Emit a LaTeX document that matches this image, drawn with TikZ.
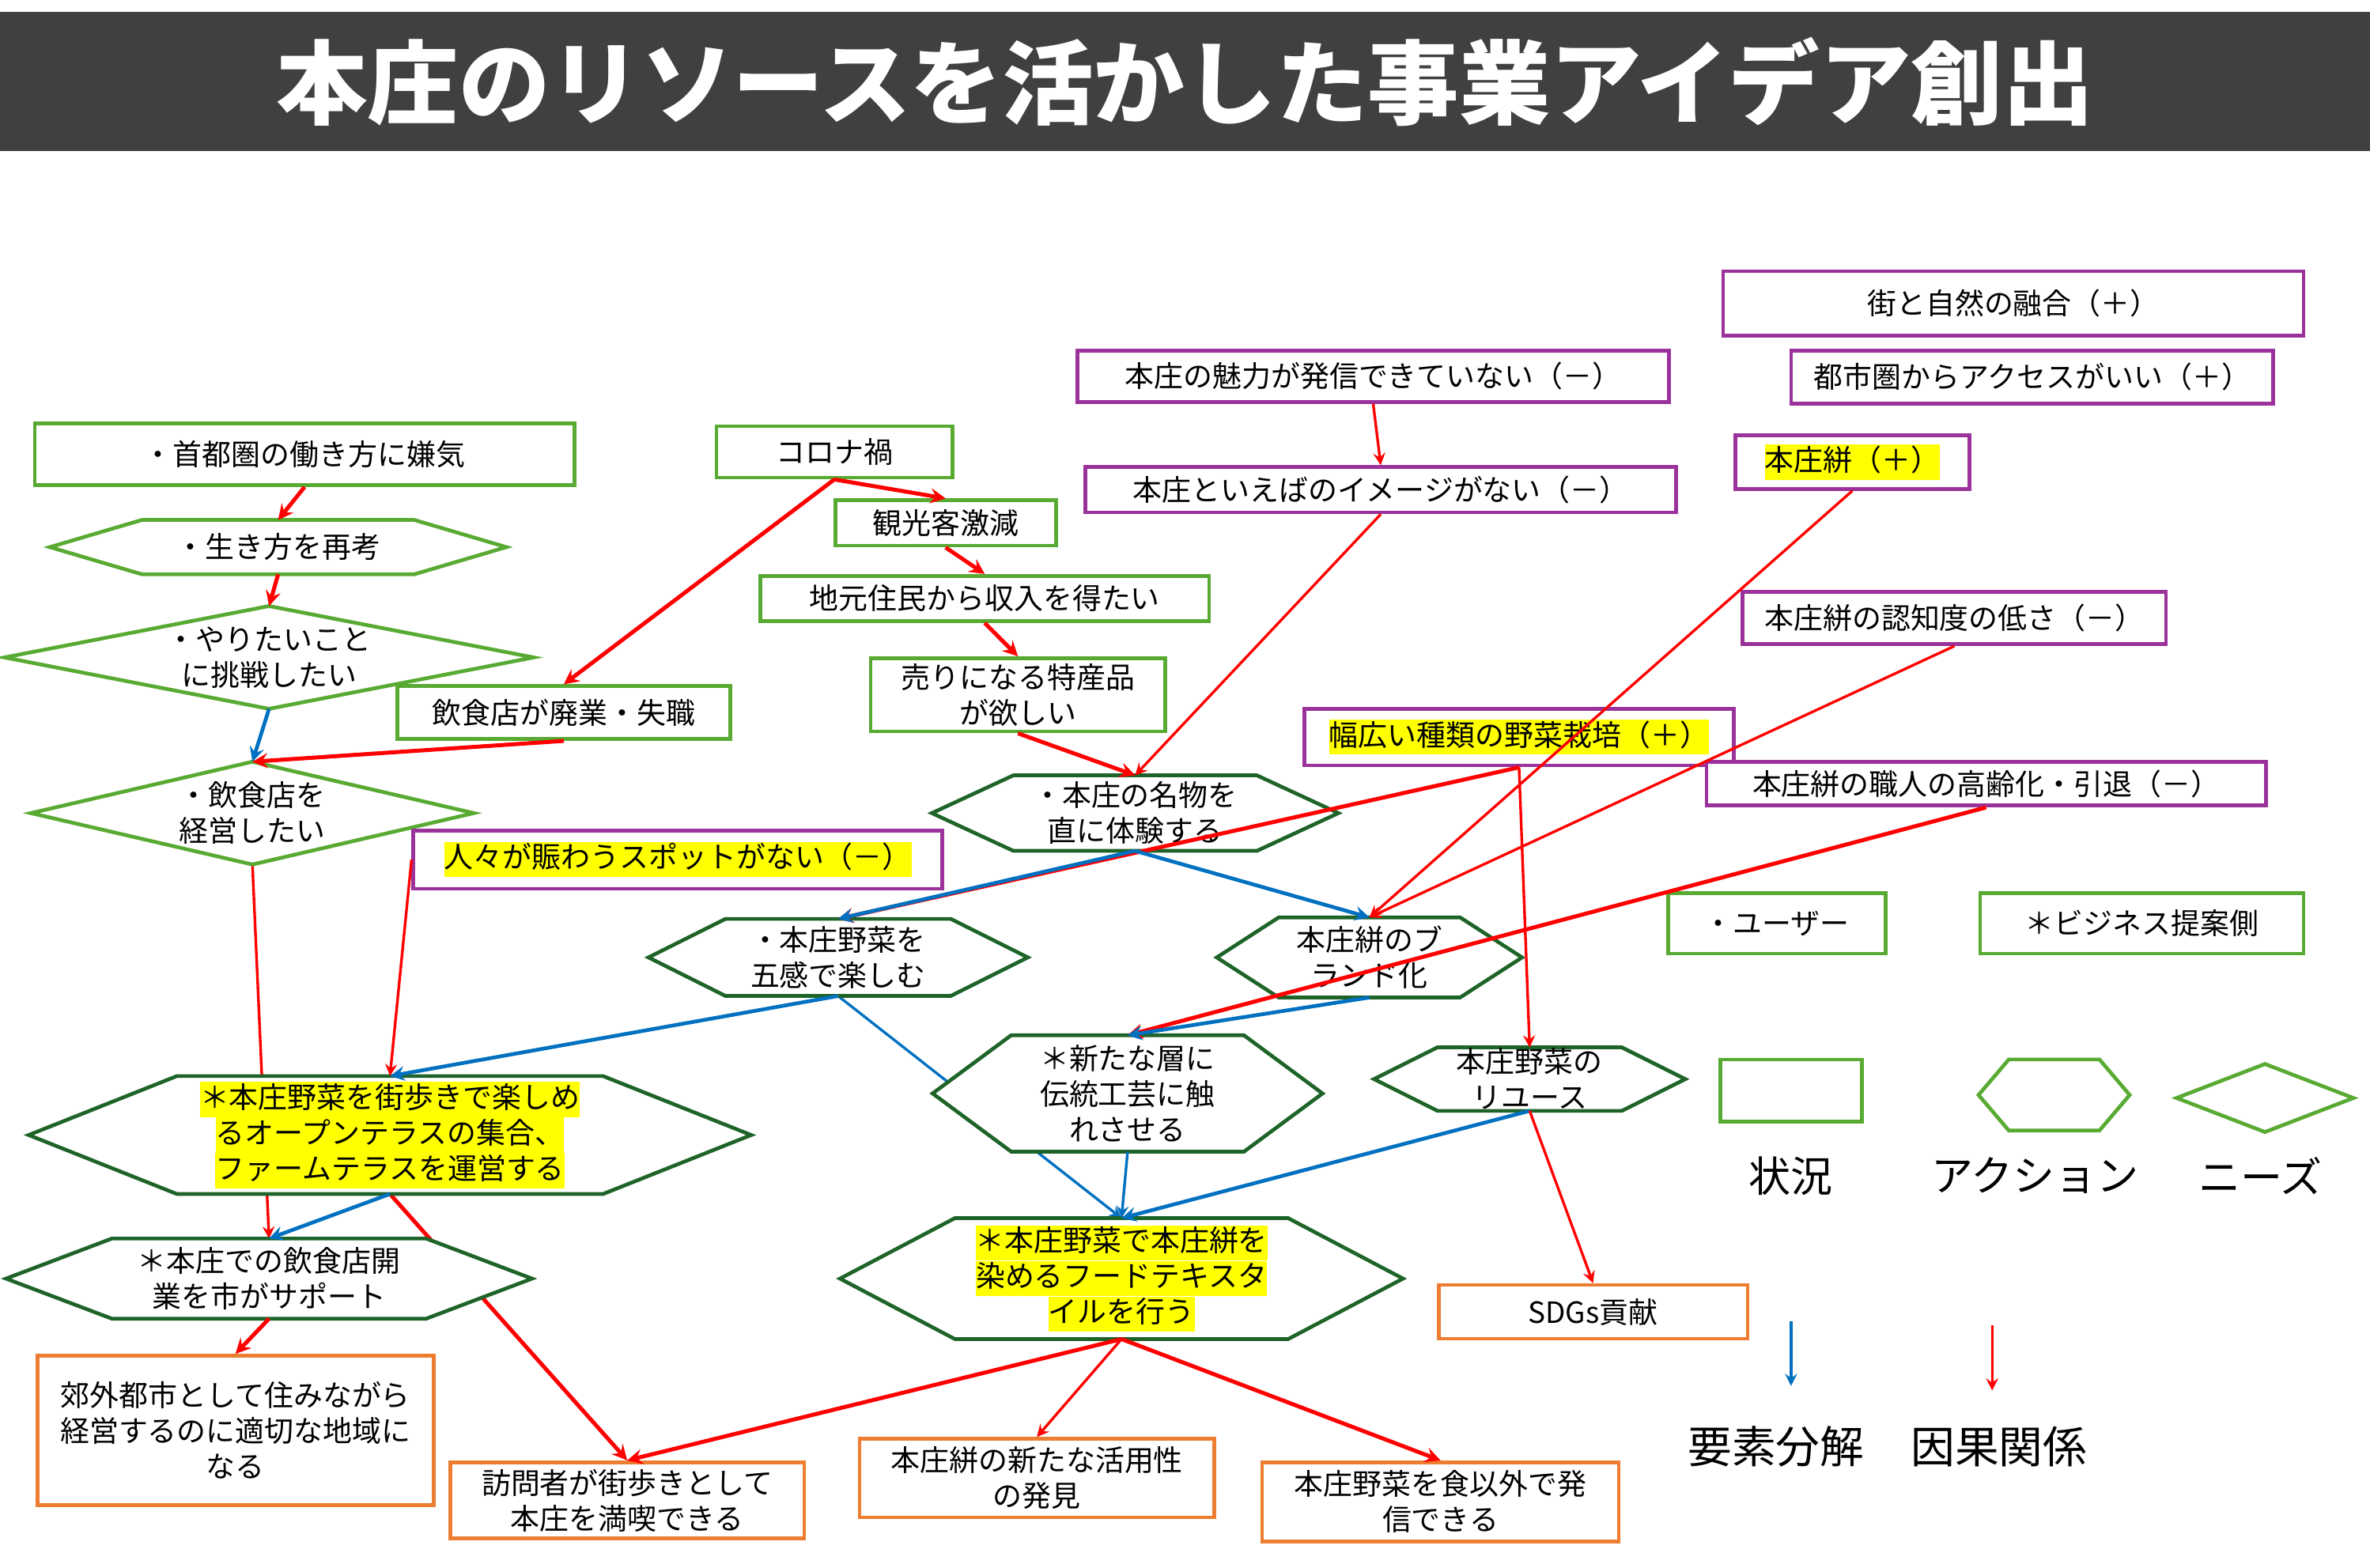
\documentclass[tikz,border=0pt]{standalone}
\usepackage{fontspec}
\setmainfont{Noto Sans CJK JP}
\usepackage{xcolor}
\usepackage{tikz}

\definecolor{sitgreen}{RGB}{88,170,50}
\definecolor{actgreen}{RGB}{30,100,40}
\definecolor{probpurple}{RGB}{155,50,155}
\definecolor{outorange}{RGB}{237,125,49}
\definecolor{causered}{RGB}{255,0,0}
\definecolor{partblue}{RGB}{0,112,192}
\definecolor{titlegray}{RGB}{64,64,64}
\definecolor{hlyellow}{RGB}{255,255,0}

\pgfdeclarelayer{hidden}
\pgfdeclarelayer{frames}
\pgfsetlayers{hidden,frames,main}

% yellow marker behind one line of text
\newcommand{\hl}[1]{{\setlength{\fboxsep}{0pt}\colorbox{hlyellow}{\rule[-3.4pt]{0pt}{13.2pt}#1}}}
% hexagon / diamond round a text node
\newcommand{\hexframe}[3]{\draw[#3] (#1.west) -- ([xshift=#2*0.02cm]#1.north west) -- ([xshift=-#2*0.02cm]#1.north east) -- (#1.east) -- ([xshift=-#2*0.02cm]#1.south east) -- ([xshift=#2*0.02cm]#1.south west) -- cycle;}
\newcommand{\diaframe}[2]{\draw[#2] (#1.west) -- (#1.north) -- (#1.east) -- (#1.south) -- cycle;}

\begin{document}
\begin{tikzpicture}[x=0.02cm, y=-0.02cm]
        % Define styles
        \tikzset{
            wh/.style 2 args={minimum width=#1*0.02cm, minimum height=#2*0.02cm},
            situation/.style={rectangle, draw=sitgreen, line width=1.4pt, fill=white, align=center, inner sep=0pt, font=\fontsize{11}{13.4}\selectfont},
            problem/.style={situation, draw=probpurple},
            outcome/.style={situation, draw=outorange},
            shapetext/.style={rectangle, inner sep=0pt, outer sep=0pt, align=center, font=\fontsize{11}{13.4}\selectfont},
            hexline/.style={draw=actgreen, line width=1.4pt, fill=white, line join=miter},
            needline/.style={hexline, draw=sitgreen},
            keylabel/.style={font=\fontsize{15.8}{18}\selectfont},
            cause/.style={->,>=stealth, draw=causered, line width=1.5pt},
            causethin/.style={cause, line width=1pt},
            part/.style={->,>=stealth, draw=partblue, line width=1.4pt},
            partthin/.style={part, line width=1pt}
        }
        \begin{pgfonlayer}{hidden}
            \fill[white] (0,0) rectangle (1568,1037);
        \end{pgfonlayer}
        \useasboundingbox (0,0) rectangle (1568,1037);

        % Title
        \node[fill=titlegray, text=white, inner sep=0pt, wh={1568}{92}, font=\fontsize{34.4}{40}\selectfont\bfseries] (title) at (784,54) {本庄のリソースを活かした事業アイデア創出};

        % Nodes: users
        \node[situation, wh={357}{41}] (A1) at (201.5,300.5) {・首都圏の働き方に嫌気};
        \node[shapetext, wh={302}{36}] (A2) at (184,362) {・生き方を再考};
        \node[shapetext, wh={350}{68}] (A3) at (178,435) {・やりたいこと\\に挑戦したい};
        \node[situation, wh={220}{35}] (A4) at (373,471.5) {飲食店が廃業・失職};
        \node[shapetext, wh={293}{68}] (A5) at (167,538) {・飲食店を\\経営したい};
        \node[situation, wh={156}{34}] (B1) at (552,299) {コロナ禍};
        \node[situation, wh={146}{30}] (B2) at (625.6,346) {観光客激減};
        \node[situation, wh={297}{30}] (B3) at (651.5,396) {地元住民から収入を得たい};
        \node[situation, wh={195}{48.5}] (B4) at (673.5,459.75) {売りになる特産品\\が欲しい};

        % Nodes: resources
        \node[problem, wh={391}{34}] (P1) at (908.5,249) {本庄の魅力が発信できていない（－）};
        \node[problem, wh={391}{30}] (P2) at (913.5,324) {本庄といえばのイメージがない（－）};
        \node[problem, wh={384}{42.5}] (P3) at (1332,200.75) {街と自然の融合（＋）};
        \node[problem, wh={319}{35}] (P4) at (1344.5,249.5) {都市圏からアクセスがいい（＋）};
        \node[problem, wh={155}{35.5}] (P5) at (1225.5,305.75) {\hl{本庄絣（＋）}};
        \node[problem, wh={280}{34.5}] (P6) at (1293,409) {本庄絣の認知度の低さ（－）};
        \node[problem, wh={284}{37.5}] (P7) at (1005,487.75) {\hl{幅広い種類の野菜栽培（＋）}};
        \node[problem, wh={370}{29}] (P8) at (1314,518.5) {本庄絣の職人の高齢化・引退（－）};
        \node[problem, wh={350}{38.5}] (P9) at (448.5,568.75) {\hl{人々が賑わうスポットがない（－）}};

        % Nodes: actions
        \node[shapetext, wh={269}{50}] (H1) at (751,538) {・本庄の名物を\\直に体験する};
        \node[shapetext, wh={251}{51}] (H2) at (554.5,633.5) {・本庄野菜を\\五感で楽しむ};
        \node[shapetext, wh={202}{53}] (H3) at (906,633.5) {本庄絣のブ\\ランド化};
        \node[shapetext, wh={258}{77}] (H4) at (746,723.5) {＊新たな層に\\伝統工芸に触\\れさせる};
        \node[shapetext, wh={206}{42}] (H5) at (1012,714) {本庄野菜の\\リユース};
        \node[shapetext, wh={478}{78}] (H6) at (258,751) {\hl{＊本庄野菜を街歩きで楽しめ}\\\hl{るオープンテラスの集合、}\\\hl{ファームテラスを運営する}};
        \node[shapetext, wh={348}{53}] (H7) at (178,846) {＊本庄での飲食店開\\業を市がサポート};
        \node[shapetext, wh={372.5}{80}] (H8) at (742,846) {\hl{＊本庄野菜で本庄絣を}\\\hl{染めるフードテキスタ}\\\hl{イルを行う}};

        % Nodes: outcomes
        \node[outcome, wh={262}{99}] (O1) at (155.8,946.5) {郊外都市として住みながら\\経営するのに適切な地域に\\なる};
        \node[outcome, wh={234}{50.5}] (O2) at (415,992.75) {訪問者が街歩きとして\\本庄を満喫できる};
        \node[outcome, wh={234.5}{52}] (O3) at (686,978) {本庄絣の新たな活用性\\の発見};
        \node[outcome, wh={236}{52.5}] (O4) at (953,993.75) {本庄野菜を食以外で発\\信できる};
        \node[outcome, wh={204.5}{35.5}] (O5) at (1054,868) {SDGs貢献};

        % Legend
        \node[situation, wh={144}{40}] (L1) at (1175.5,611) {・ユーザー};
        \node[situation, wh={214}{40}] (L2) at (1417,611) {＊ビジネス提案側};
        \node[situation, wh={94}{41}] (L3) at (1185,721.5) {};
        \node[shapetext, wh={100}{47}] (L4) at (1359,724.5) {};
        \node[shapetext, wh={117}{45}] (L5) at (1498.5,726.5) {};
        \node[keylabel] (L3text) at (1185,778) {状況};
        \node[keylabel] (L4text) at (1346.5,778) {アクション};
        \node[keylabel] (L5text) at (1495.5,778) {ニーズ};
        \node[keylabel, font=\fontsize{16.6}{19}\selectfont] (keyB) at (1175,957) {要素分解};
        \node[keylabel, font=\fontsize{16.6}{19}\selectfont] (keyR) at (1322.5,957) {因果関係};
        \coordinate (keyB1) at (1185,874);
        \coordinate (keyB2) at (1185,917);
        \coordinate (keyR1) at (1318,877);
        \coordinate (keyR2) at (1318,920);

        % Frames
        \begin{pgfonlayer}{frames}
            \hexframe{A2}{61}{needline}
            \diaframe{A3}{needline}
            \diaframe{A5}{needline}
            \hexframe{H1}{54}{hexline}
            \hexframe{H2}{51}{hexline}
            \hexframe{H3}{41}{hexline}
            \hexframe{H4}{52}{hexline}
            \hexframe{H5}{42}{hexline}
            \hexframe{H6}{98}{hexline}
            \hexframe{H7}{70}{hexline}
            \hexframe{H8}{76}{hexline}
            \hexframe{L4}{20}{needline}
            \diaframe{L5}{needline}
        \end{pgfonlayer}

        % Arrows
        \draw[cause] (A1.south) -- (A2.north);
        \draw[cause] (A2.south) -- (A3.north);
        \draw[part] (A3.south) -- (A5.north);
        \draw[cause] (A4.south) -- (A5.north);
        \draw[cause] (B1.south) -- (A4.north);
        \draw[cause] (B1.south) -- (B2.north);
        \draw[cause] (B2.south) -- (B3.north);
        \draw[cause] (B3.south) -- (B4.north);
        \draw[cause] (B4.south) -- (H1.north);
        \draw[causethin] (P1.south) -- (P2.north);
        \draw[causethin] (P2.south) -- (H1.north);
        \draw[causethin] (P5.south) -- (H3.north);
        \draw[causethin] (P6.south) -- (H3.north);
        \draw[cause] (P7.south) -- (H2.north);
        \draw[causethin] (P7.south) -- (H5.north);
        \draw[cause] (P8.south) -- (H4.north);
        \draw[causethin] (P9.west) -- (H6.north);
        \draw[part] (H1.south) -- (H2.north);
        \draw[part] (H1.south) -- (H3.north);
        \draw[part] (H3.south) -- (H4.north);
        \draw[part] (H2.south) -- (H6.north);
        \draw[partthin] (H4.south) -- (H8.north);
        \draw[part] (H5.south) -- (H8.north);
        \draw[causethin] (H5.south) -- (O5.north);
        \draw[part] (H6.south) -- (H7.north);
        \draw[cause] (H7.south) -- (O1.north);
        \draw[cause] (H8.south) -- (O2.north);
        \draw[causethin] (H8.south) -- (O3.north);
        \draw[cause] (H8.south) -- (O4.north);
        \draw[partthin] (keyB1) -- (keyB2);
        \draw[causethin] (keyR1) -- (keyR2);

        % Arrows running behind the hexagons
        \begin{pgfonlayer}{hidden}
            \draw[causethin] (A5.south) -- (H7.north);
            \draw[cause] (H6.south) -- (O2.north);
            \draw[partthin] (H2.south) -- (H8.north);
        \end{pgfonlayer}
    \end{tikzpicture}
\end{document}
